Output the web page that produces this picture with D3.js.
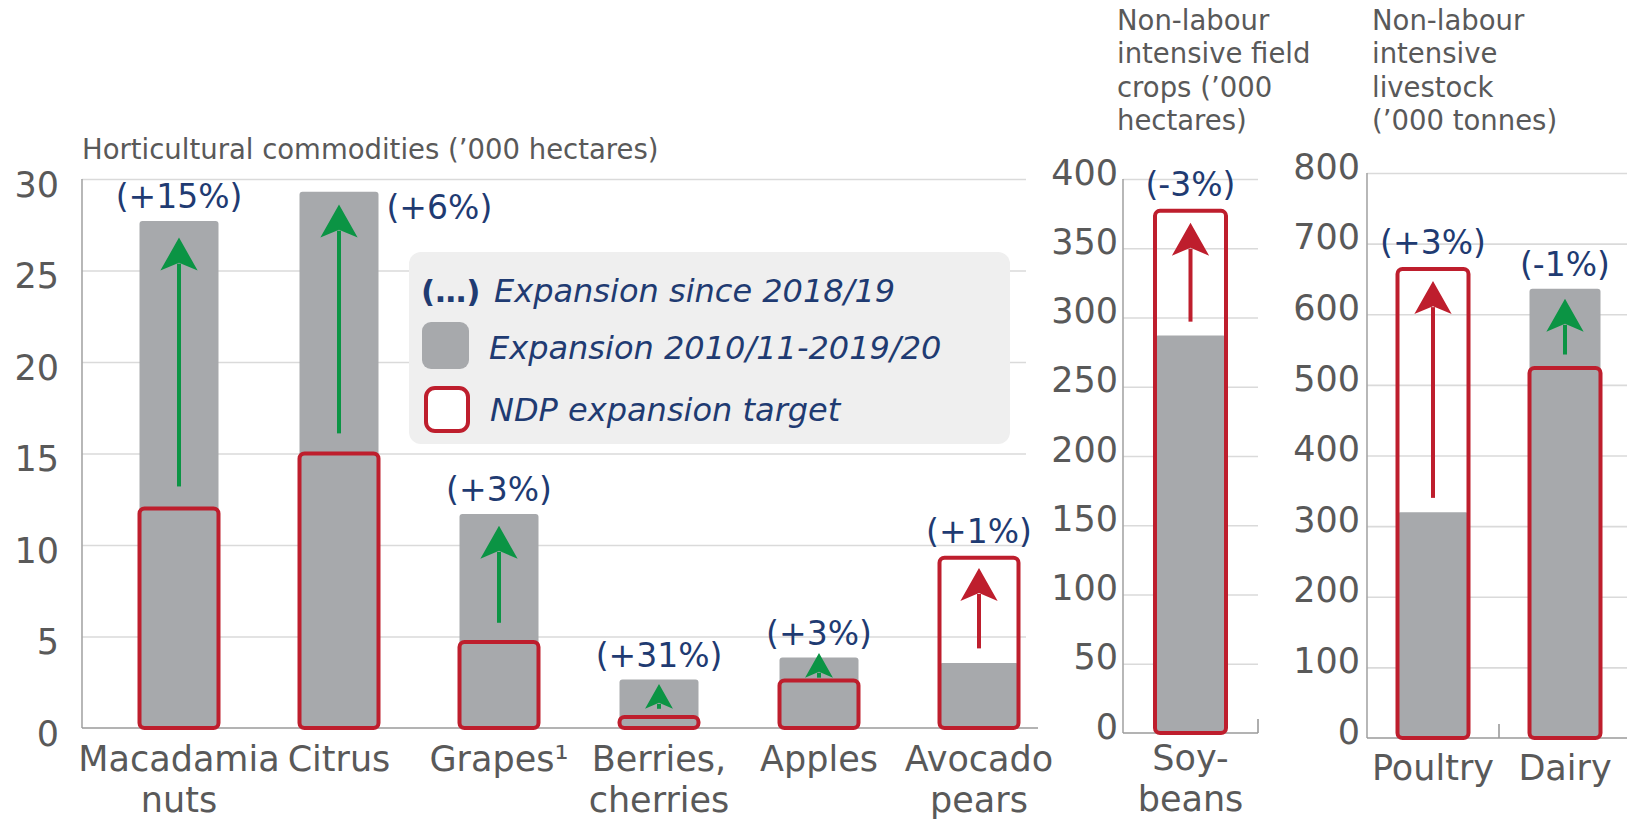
<!DOCTYPE html>
<html><head><meta charset="utf-8">
<script src="https://cdn.jsdelivr.net/npm/d3@7"></script>
<style>html,body{margin:0;padding:0;background:#fff;overflow:hidden}text{font-family:"DejaVu Sans",Verdana,sans-serif}</style>
</head><body>
<svg id="chart" width="1627" height="820"></svg>
<script>
// ---------- data ----------
const hortCategories = ["Macadamia\nnuts", "Citrus", "Grapes¹", "Berries,\ncherries", "Apples", "Avocado\npears"];
const hortActual     = [27.7, 29.3, 11.7, 2.65, 3.85, 3.55];   // expansion 2010/11-2019/20
const hortTarget     = [12.0, 15.0, 4.7, 0.6, 2.6, 9.3];       // NDP expansion target
const hortArrowFrom  = [13.2, 16.1, 5.75, 1.05, 2.75, 4.35];
const hortArrowTo    = [26.8, 28.6, 11.05, 2.4, 4.1, 8.75];
const hortChange     = ["(+15%)", "(+6%)", "(+3%)", "(+31%)", "(+3%)", "(+1%)"];
const hortTicks      = [0, 5, 10, 15, 20, 25, 30];
const hortTitle      = ["Horticultural commodities (’000 hectares)"];

const fieldCategories = ["Soy-\nbeans"];
const fieldActual     = [287];
const fieldTarget     = [377];
const fieldArrowFrom  = [297];
const fieldArrowTo    = [368.5];
const fieldChange     = ["(-3%)"];
const fieldTicks      = [0, 50, 100, 150, 200, 250, 300, 350, 400];
const fieldTitle      = ["Non-labour", "intensive field", "crops (’000", "hectares)"];

const liveCategories = ["Poultry", "Dairy"];
const liveActual     = [319.5, 636];
const liveTarget     = [664, 524];
const liveArrowFrom  = [340, 543];
const liveArrowTo    = [647, 622];
const liveChange     = ["(+3%)", "(-1%)"];
const liveTicks      = [0, 100, 200, 300, 400, 500, 600, 700, 800];
const liveTitle      = ["Non-labour", "intensive", "livestock", "(’000 tonnes)"];

const legendMarker = "(…)";
const legendLabels = ["Expansion since 2018/19", "Expansion 2010/11-2019/20", "NDP expansion target"];

// ---------- styles ----------
const GRAY = "#a7a9ac", RED = "#be1e2d", GREEN = "#0b9444", NAVY = "#1f3b72", TXT = "#595959";
const GRID = "#dadada", AXIS = "#a6a6a6";

const svg = d3.select("#chart");

const panels = [
  { cats: hortCategories, actual: hortActual, target: hortTarget, from: hortArrowFrom, to: hortArrowTo,
    change: hortChange, ticks: hortTicks, title: hortTitle,
    x: d3.scalePoint().domain(hortCategories).range([179, 979]),
    y: d3.scaleLinear().domain([0, 30]).range([728, 179]),
    left: 82, gridRight: 1026, baseRight: 1038, barW: 79, labelRight: 59, tickDy: 6,
    catY: 771, titleX: 82, titleY: 159, seps: [] },
  { cats: fieldCategories, actual: fieldActual, target: fieldTarget, from: fieldArrowFrom, to: fieldArrowTo,
    change: fieldChange, ticks: fieldTicks, title: fieldTitle,
    x: d3.scalePoint().domain(fieldCategories).range([1123, 1258]).padding(0.5),
    y: d3.scaleLinear().domain([0, 400]).range([733, 179]),
    left: 1123, gridRight: 1258, baseRight: 1258, barW: 71, labelRight: 1118, tickDy: -6,
    catY: 770, titleX: 1117, titleY: 30, seps: [1258] },
  { cats: liveCategories, actual: liveActual, target: liveTarget, from: liveArrowFrom, to: liveArrowTo,
    change: liveChange, ticks: liveTicks, title: liveTitle,
    x: d3.scalePoint().domain(liveCategories).range([1367, 1631]).padding(0.5),
    y: d3.scaleLinear().domain([0, 800]).range([738, 173]),
    left: 1367, gridRight: 1627, baseRight: 1627, barW: 71, labelRight: 1360, tickDy: -6,
    catY: 780, titleX: 1372, titleY: 30, seps: [1499] }
];

// gridlines first
panels.forEach(p => {
  const g = svg.append("g").attr("transform", `translate(${p.left},0)`);
  g.call(d3.axisLeft(p.y).tickValues(p.ticks.filter(t => t > 0)).tickSize(-(p.gridRight - p.left)).tickFormat(""));
  g.select(".domain").remove();
  g.selectAll(".tick line").attr("stroke", GRID).attr("stroke-width", 1.6);
});

// legend box
const lg = svg.append("g");
lg.append("rect").attr("x", 409).attr("y", 252).attr("width", 601).attr("height", 192).attr("rx", 12).attr("fill", "#efefef");
lg.append("text").attr("x", 421).attr("y", 302).attr("font-size", 31).attr("font-weight", "bold").attr("fill", NAVY).text(legendMarker);
lg.append("rect").attr("x", 422).attr("y", 322).attr("width", 47).attr("height", 47).attr("rx", 9).attr("fill", GRAY);
lg.append("rect").attr("x", 426).attr("y", 388).attr("width", 42).attr("height", 43).attr("rx", 9)
  .attr("fill", "#fff").attr("stroke", RED).attr("stroke-width", 4);
const legendX = [494, 489, 490], legendY = [302, 359, 421];
legendLabels.forEach((t, i) => {
  lg.append("text").attr("x", legendX[i]).attr("y", legendY[i]).attr("font-size", 32)
    .attr("font-style", "italic").attr("fill", NAVY).text(t);
});

function arrow(g, cx, yTail, yTip, color) {
  const len = yTail - yTip;
  const L = Math.min(33, len);
  const W = L * 1.13;
  const notch = yTip + L * 0.76;
  if (yTail > notch) g.append("line").attr("x1", cx).attr("x2", cx).attr("y1", yTail).attr("y2", notch + 1)
    .attr("stroke", color).attr("stroke-width", 4);
  g.append("path").attr("d", `M${cx},${yTip} L${cx + W / 2},${yTip + L} L${cx},${notch} L${cx - W / 2},${yTip + L} Z`)
    .attr("fill", color);
}

panels.forEach(p => {
  const y0 = p.y(0);
  // y axis labels
  const ga = svg.append("g").attr("transform", `translate(${p.left},0)`);
  ga.call(d3.axisLeft(p.y).tickValues(p.ticks).tickSize(0).tickPadding(p.left - p.labelRight));
  ga.select(".domain").remove();
  ga.selectAll(".tick text").attr("y", p.tickDy).attr("font-size", 35).attr("fill", TXT)
    .attr("font-family", '"DejaVu Sans", Verdana, sans-serif');
  // axis lines
  svg.append("line").attr("x1", p.left).attr("x2", p.left).attr("y1", p.y(p.ticks[p.ticks.length - 1])).attr("y2", y0)
    .attr("stroke", AXIS).attr("stroke-width", 1.6);
  svg.append("line").attr("x1", p.left).attr("x2", p.baseRight).attr("y1", y0).attr("y2", y0)
    .attr("stroke", "#9a9a9a").attr("stroke-width", 1.6);
  p.seps.forEach(sx => svg.append("line").attr("x1", sx).attr("x2", sx).attr("y1", y0 - 14).attr("y2", y0)
    .attr("stroke", "#9a9a9a").attr("stroke-width", 1.6));

  // title
  const tt = svg.append("text").attr("x", p.titleX).attr("y", p.titleY).attr("font-size", 27.5).attr("fill", TXT);
  p.title.forEach((line, i) => tt.append("tspan").attr("x", p.titleX).attr("dy", i === 0 ? 0 : 33.3).text(line));

  const g = svg.append("g");
  p.cats.forEach((c, i) => {
    const cx = p.x(c), w = p.barW;
    const a = p.actual[i], t = p.target[i];
    g.append("rect").attr("x", cx - w / 2).attr("y", p.y(a)).attr("width", w).attr("height", y0 - p.y(a))
      .attr("rx", 3).attr("fill", GRAY);
    g.append("rect").attr("x", cx - w / 2).attr("y", p.y(t)).attr("width", w).attr("height", y0 - p.y(t))
      .attr("rx", 5).attr("fill", "none").attr("stroke", RED).attr("stroke-width", 4);
    arrow(g, cx, p.y(p.from[i]), p.y(p.to[i]), a >= t ? GREEN : RED);

    // change label
    const top = Math.min(p.y(a), p.y(t) - 2);
    const base = top - 13;
    const lab = g.append("text").attr("font-size", 33).attr("fill", NAVY).text(p.change[i]);
    if (base - 25 < p.y(p.ticks[p.ticks.length - 1]) - 10) {
      lab.attr("x", cx + w / 2 + 8).attr("y", top + 27).attr("text-anchor", "start");
    } else {
      lab.attr("x", cx).attr("y", base).attr("text-anchor", "middle");
    }

    // category label
    const ct = g.append("text").attr("x", cx).attr("y", p.catY).attr("font-size", 35)
      .attr("fill", TXT).attr("text-anchor", "middle");
    c.split("\n").forEach((line, k) => ct.append("tspan").attr("x", cx).attr("dy", k === 0 ? 0 : 41).text(line));
  });
});
</script>
</body></html>
